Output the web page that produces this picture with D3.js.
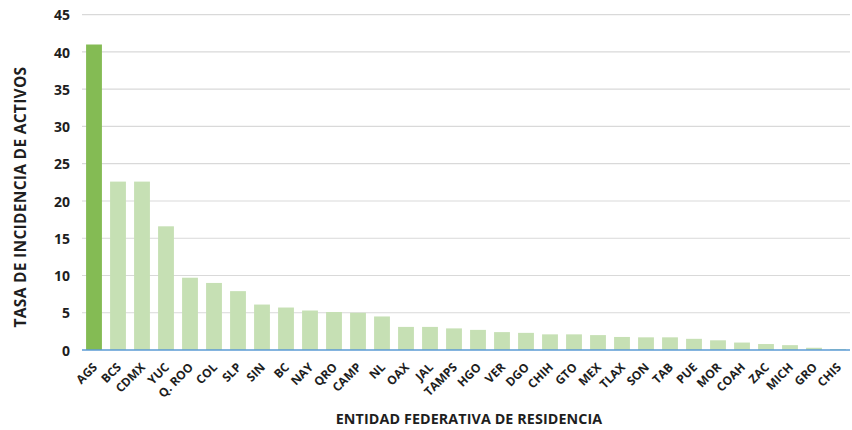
<!DOCTYPE html>
<html>
<head>
<meta charset="utf-8">
<script src="https://cdn.jsdelivr.net/npm/d3@7"></script>
<style>
  body { margin: 0; background: #fff; }
  text { font-family: "Open Sans", "DejaVu Sans", sans-serif; font-weight: 700; fill: #1e1e1e; }
</style>
</head>
<body>
<script>
// estados y tasas
var estados = ["AGS","BCS","CDMX","YUC","Q. ROO","COL","SLP","SIN","BC","NAY","QRO","CAMP","NL","OAX","JAL","TAMPS",
               "HGO","VER","DGO","CHIH","GTO","MEX","TLAX","SON","TAB","PUE","MOR","COAH","ZAC","MICH","GRO","CHIS"];
var tasas = [41.0,22.6,22.6,16.6,9.7,9.0,7.9,6.1,5.7,5.3,5.1,5.0,4.5,3.1,3.1,2.9,
             2.7,2.4,2.3,2.1,2.1,2.0,1.75,1.7,1.7,1.5,1.3,1.0,0.8,0.65,0.3,0.13];
var yTicks = [0,5,10,15,20,25,30,35,40,45];

var W = 852, H = 430;
var svg = d3.select("body").append("svg")
    .attr("width", W)
    .attr("height", H);

var x = d3.scaleBand()
    .domain(estados)
    .range([82, 850])
    .paddingInner(0.34)
    .paddingOuter(0.17);

var y = d3.scaleLinear()
    .domain([0, 45])
    .range([350, 14.7]);

// lineas de la cuadricula
svg.append("g")
  .selectAll("line")
  .data(yTicks.filter(d => d > 0))
  .enter()
  .append("line")
  .attr("x1", 82).attr("x2", 850)
  .attr("y1", d => y(d)).attr("y2", d => y(d))
  .attr("stroke", "#d9d9d9")
  .attr("stroke-width", 1.2);

// barras
svg.append("g")
  .selectAll("rect")
  .data(tasas)
  .enter()
  .append("rect")
  .attr("x", (d, i) => x(estados[i]))
  .attr("width", x.bandwidth())
  .attr("y", d => y(d))
  .attr("height", d => y(0) - y(d))
  .attr("fill", (d, i) => i == 0 ? "#84bb54" : "#c6e0b4");

// linea base
svg.append("line")
  .attr("x1", 82).attr("x2", 850)
  .attr("y1", y(0)).attr("y2", y(0))
  .attr("stroke", "#5b9bd5")
  .attr("stroke-width", 1.3);

// eje y
var yAxis = d3.axisLeft(y).tickValues(yTicks).tickSize(0).tickPadding(0);
var gy = svg.append("g")
  .attr("transform", "translate(70,0)")
  .call(yAxis);
gy.select(".domain").remove();
gy.selectAll("text")
  .style("font-size", "14px")
  .attr("dy", "0.36em");

// eje x
var xAxis = d3.axisBottom(x).tickSize(0).tickPadding(0);
var gx = svg.append("g")
  .attr("transform", "translate(0," + y(0) + ")")
  .call(xAxis);
gx.select(".domain").remove();
gx.selectAll("text")
  .style("font-size", "12px")
  .attr("text-anchor", "end")
  .attr("dy", null)
  .attr("y", 0)
  .attr("transform", "translate(4,18) rotate(-45)");

// titulos
svg.append("text")
  .text("TASA DE INCIDENCIA DE ACTIVOS")
  .attr("transform", "translate(26,197) rotate(-90)")
  .attr("text-anchor", "middle")
  .style("font-size", "15.5px")
  .style("letter-spacing", "0.3px");

svg.append("text")
  .text("ENTIDAD FEDERATIVA DE RESIDENCIA")
  .attr("x", 469)
  .attr("y", 424)
  .attr("text-anchor", "middle")
  .style("font-size", "14.3px")
  .style("letter-spacing", "0.1px");
</script>
</body>
</html>
